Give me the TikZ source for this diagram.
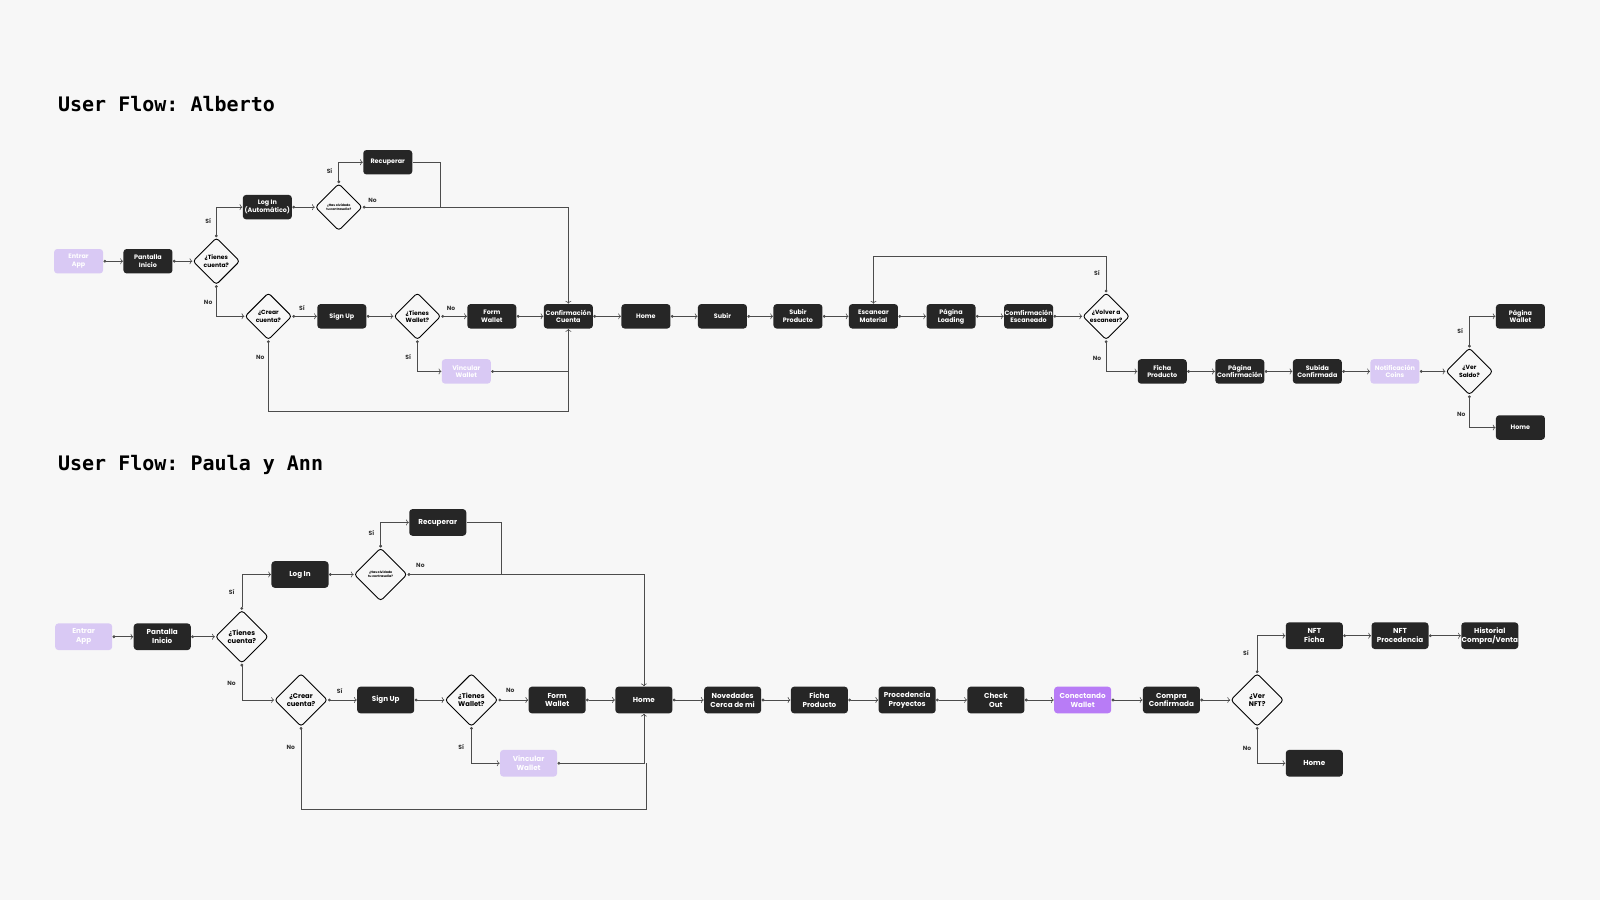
\documentclass[tikz,border=0pt]{standalone}
\usepackage{fontspec}
\setmainfont{Poppins}
\setmonofont{DejaVu Sans Mono}
\usetikzlibrary{shapes.geometric, arrows.meta, positioning}
\definecolor{fondo}{HTML}{F7F7F7}
\definecolor{caja}{HTML}{262626}
\definecolor{lila}{HTML}{D9C9F4}
\definecolor{morado}{HTML}{B87CF6}

\tikzset{
  box/.style={fill=caja, text=white, rounded corners=1.6pt, align=center, inner sep=0pt,
    minimum width=24.5pt, minimum height=12.2pt, font=\bfseries\fontsize{3.2}{3.9}\selectfont},
  bigbox/.style={box, minimum width=28.5pt, minimum height=13.3pt, font=\bfseries\fontsize{3.6}{4.4}\selectfont},
  pale/.style={fill=lila},
  dec/.style={diamond, draw=black, line width=0.45pt, fill=fondo, rounded corners=1.5pt, align=center,
    inner sep=0pt, minimum width=23.5pt, minimum height=23.5pt, font=\bfseries\fontsize{3}{3.6}\selectfont},
  bigdec/.style={dec, minimum width=26.5pt, minimum height=26.5pt, font=\bfseries\fontsize{3.4}{4}\selectfont},
  tiny/.style={font=\bfseries\fontsize{1.6}{2}\selectfont},
  lbl/.style={font=\bfseries\fontsize{3}{3.6}\selectfont, text=black!80},
  conn/.style={{Circle[length=1.4pt]}-{To[length=1.4pt]}, draw=black!70, line width=0.3pt},
  line/.style={draw=black!70, line width=0.3pt},
  title/.style={font=\ttfamily\bfseries\fontsize{10}{12}\selectfont, anchor=west}
}

\begin{document}
\begin{tikzpicture}[x=0.51pt, y=-0.51pt]
\fill[fondo] (0,0) rectangle (1568,882);
\useasboundingbox (0,0) rectangle (1568,882);

% ---------- User Flow: Alberto
\node[title] (t1) at (50,102) {User Flow: Alberto};

\node[box,pale] (entrar1) at (77,256) {Entrar\\App};
\node[box] (pant1) at (145,256) {Pantalla\\Inicio};
\node[dec] (tc1) at (212,256) {¿Tienes\\cuenta?};
\node[box] (login1) at (262,203) {Log In\\(Automático)};
\node[dec,tiny] (ho1) at (332,203) {¿Has olvidado\\tu contraseña?};
\node[box] (rec1) at (380,159) {Recuperar};
\node[dec] (cc1) at (263,310) {¿Crear\\cuenta?};
\node[box] (sign1) at (335,310) {Sign Up};
\node[dec] (tw1) at (409,310) {¿Tienes\\Wallet?};
\node[box] (form1) at (482,310) {Form\\Wallet};
\node[box,pale] (vinc1) at (457,364) {Vincular\\Wallet};
\node[box] (conf1) at (557,310) {Confirmación\\Cuenta};
\node[box] (home1) at (633,310) {Home};
\node[box] (subir1) at (708,310) {Subir};
\node[box] (subp1) at (782,310) {Subir\\Producto};
\node[box] (esc1) at (856,310) {Escanear\\Material};
\node[box] (load1) at (932,310) {Página\\Loading};
\node[box] (cesc1) at (1008,310) {Comfirmación\\Escaneado};
\node[dec] (vol1) at (1084,310) {¿Volver a\\escanear?};
\node[box] (ficha1) at (1139,364) {Ficha\\Producto};
\node[box] (pconf1) at (1215,364) {Página\\Confirmación};
\node[box] (subc1) at (1291,364) {Subida\\Confirmada};
\node[box,pale] (notif1) at (1367,364) {Notificación\\Coins};
\node[dec] (saldo1) at (1440,364) {¿Ver\\Saldo?};
\node[box] (pwal1) at (1490,310) {Página\\Wallet};
\node[box] (homeb1) at (1490,419) {Home};

\coordinate (j1) at (431,203);
\coordinate (j2) at (557,364);
\coordinate (j3) at (557,403);
\coordinate (j4) at (856,251);

\foreach \a/\b in {entrar1/pant1, pant1/tc1, login1/ho1, cc1/sign1, sign1/tw1, tw1/form1,
  form1/conf1, conf1/home1, home1/subir1, subir1/subp1, subp1/esc1, esc1/load1, load1/cesc1,
  cesc1/vol1, ficha1/pconf1, pconf1/subc1, subc1/notif1, notif1/saldo1}
  \draw[conn] (\a.east) -- (\b.west);

\draw[conn] (tc1.north) |- (login1.west);
\draw[conn] (tc1.south) |- (cc1.west);
\draw[conn] (ho1.north) |- (rec1.west);
\draw[line] (rec1.east) -| (j1);
\draw[conn] (ho1.east) -| (conf1.north);
\draw[conn] (tw1.south) |- (vinc1.west);
\draw[conn] (vinc1.east) -| (conf1.south);
\draw[{Circle[length=1.4pt]}-, line] (cc1.south) |- (j3) -- (j2);
\draw[conn] (vol1.north) |- (j4) -- (esc1.north);
\draw[conn] (vol1.south) |- (ficha1.west);
\draw[conn] (saldo1.north) |- (pwal1.west);
\draw[conn] (saldo1.south) |- (homeb1.west);

\node[lbl] (l1) at (204,217) {Sí};
\node[lbl] (l2) at (204,296) {No};
\node[lbl] (l3) at (323,168) {Sí};
\node[lbl] (l4) at (365,196) {No};
\node[lbl] (l5) at (296,302) {Sí};
\node[lbl] (l6) at (442,302) {No};
\node[lbl] (l7) at (400,350) {Sí};
\node[lbl] (l8) at (255,350) {No};
\node[lbl] (l9) at (1075,268) {Sí};
\node[lbl] (l10) at (1075,351) {No};
\node[lbl] (l11) at (1431,324) {Sí};
\node[lbl] (l12) at (1432,406) {No};

% ---------- User Flow: Paula y Ann
\node[title] (t2) at (50,456) {User Flow: Paula y Ann};

\node[bigbox,pale] (entrar2) at (82,624) {Entrar\\App};
\node[bigbox] (pant2) at (159,624) {Pantalla\\Inicio};
\node[bigdec] (tc2) at (237,624) {¿Tienes\\cuenta?};
\node[bigbox] (login2) at (294,563) {Log In};
\node[bigdec,tiny] (ho2) at (373,563) {¿Has olvidado\\tu contraseña?};
\node[bigbox] (rec2) at (429,512) {Recuperar};
\node[bigdec] (cc2) at (295,686) {¿Crear\\cuenta?};
\node[bigbox] (sign2) at (378,686) {Sign Up};
\node[bigdec] (tw2) at (462,686) {¿Tienes\\Wallet?};
\node[bigbox] (form2) at (546,686) {Form\\Wallet};
\node[bigbox,pale] (vinc2) at (518,748) {Vincular\\Wallet};
\node[bigbox] (home2) at (631,686) {Home};
\node[bigbox] (nov2) at (718,686) {Novedades\\Cerca de mi};
\node[bigbox] (ficha2) at (803,686) {Ficha\\Producto};
\node[bigbox] (proc2) at (889,686) {Procedencia\\Proyectos};
\node[bigbox] (check2) at (976,686) {Check\\Out};
\node[bigbox,fill=morado] (conw2) at (1061,686) {Conectando\\Wallet};
\node[bigbox] (compra2) at (1148,686) {Compra\\Confirmada};
\node[bigdec] (nft2) at (1232,686) {¿Ver\\NFT?};
\node[bigbox] (nftf2) at (1288,623) {NFT\\Ficha};
\node[bigbox] (nftp2) at (1372,623) {NFT\\Procedencia};
\node[bigbox] (hist2) at (1460,623) {Historial\\Compra/Venta};
\node[bigbox] (homeb2) at (1288,748) {Home};

\coordinate (k1) at (491,563);
\coordinate (k2) at (633,748);
\coordinate (k3) at (633,793);

\foreach \a/\b in {entrar2/pant2, pant2/tc2, login2/ho2, cc2/sign2, sign2/tw2, tw2/form2,
  form2/home2, home2/nov2, nov2/ficha2, ficha2/proc2, proc2/check2, check2/conw2,
  conw2/compra2, compra2/nft2, nftf2/nftp2, nftp2/hist2}
  \draw[conn] (\a.east) -- (\b.west);

\draw[conn] (tc2.north) |- (login2.west);
\draw[conn] (tc2.south) |- (cc2.west);
\draw[conn] (ho2.north) |- (rec2.west);
\draw[line] (rec2.east) -| (k1);
\draw[conn] (ho2.east) -| (home2.north);
\draw[conn] (tw2.south) |- (vinc2.west);
\draw[conn] (vinc2.east) -| (home2.south);
\draw[{Circle[length=1.4pt]}-, line] (cc2.south) |- (k3) -- (k2);
\draw[conn] (nft2.north) |- (nftf2.west);
\draw[conn] (nft2.south) |- (homeb2.west);

\node[lbl] (m1) at (227,580) {Sí};
\node[lbl] (m2) at (227,670) {No};
\node[lbl] (m3) at (364,522) {Sí};
\node[lbl] (m4) at (412,554) {No};
\node[lbl] (m5) at (333,677) {Sí};
\node[lbl] (m6) at (500,677) {No};
\node[lbl] (m7) at (452,732) {Sí};
\node[lbl] (m8) at (285,732) {No};
\node[lbl] (m9) at (1221,640) {Sí};
\node[lbl] (m10) at (1222,733) {No};
\end{tikzpicture}
\end{document}
